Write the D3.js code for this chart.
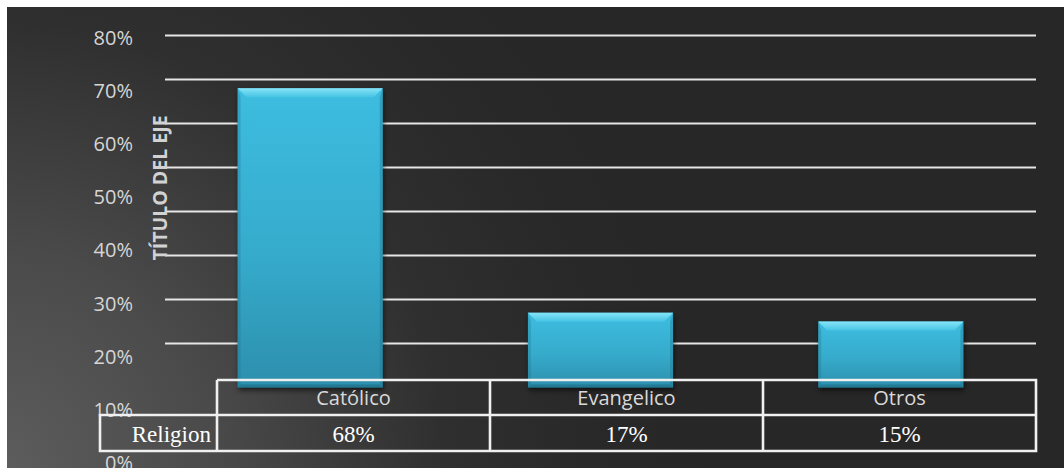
<!DOCTYPE html>
<html>
<head>
<meta charset="utf-8">
<script src="https://cdn.jsdelivr.net/npm/d3@7/dist/d3.min.js"></script>
<style>
  html, body { margin: 0; padding: 0; background: #ffffff; }
  svg { display: block; }
</style>
</head>
<body>
<svg id="chart" width="1064" height="468"></svg>
<script>
// Religion share by group
const categories = ["Católico", "Evangelico", "Otros"];
const values = [0.68, 0.17, 0.15];
const valueLabels = ["68%", "17%", "15%"];
const seriesName = "Religion";
const yTicks = [0, 0.1, 0.2, 0.3, 0.4, 0.5, 0.6, 0.7, 0.8];
const axisTitle = "TÍTULO DEL EJE";

const W = 1064, H = 468;
const svg = d3.select("#chart");
const defs = svg.append("defs");

// Background: dark charcoal brightening toward the lower-left corner
const bg = defs.append("radialGradient")
  .attr("id", "bgGrad")
  .attr("gradientUnits", "userSpaceOnUse")
  .attr("cx", 0).attr("cy", H).attr("r", 720);
[[0, "#5d5d5d"], [0.3, "#4a4a4a"], [0.62, "#2f2f2f"], [0.85, "#282828"], [1, "#272727"]]
  .forEach(([o, c]) => bg.append("stop").attr("offset", o).attr("stop-color", c));

svg.append("rect")
  .attr("x", 7).attr("y", 7)
  .attr("width", W - 7).attr("height", H - 7)
  .attr("fill", "url(#bgGrad)");

// Bar fill gradients
const barGrad = defs.append("linearGradient")
  .attr("id", "barGrad").attr("x1", 0).attr("y1", 0).attr("x2", 0).attr("y2", 1);
barGrad.append("stop").attr("offset", 0).attr("stop-color", "#3dbde0");
barGrad.append("stop").attr("offset", 0.55).attr("stop-color", "#36abcc");
barGrad.append("stop").attr("offset", 1).attr("stop-color", "#2d8fad");

const topGrad = defs.append("linearGradient")
  .attr("id", "topGrad").attr("x1", 0).attr("y1", 0).attr("x2", 0).attr("y2", 1);
topGrad.append("stop").attr("offset", 0).attr("stop-color", "#86e4f8");
topGrad.append("stop").attr("offset", 1).attr("stop-color", "#45c3e3");

const shadow = defs.append("filter").attr("id", "barShadow")
  .attr("x", "-10%").attr("y", "-10%").attr("width", "120%").attr("height", "130%");
shadow.append("feGaussianBlur").attr("stdDeviation", 2.5);

// Scales
const x = d3.scaleBand()
  .domain(categories)
  .range([165, 1036])
  .paddingInner(0.5)
  .paddingOuter(0.25);

const y = d3.scaleLinear().domain([0, 0.8]).range([387.5, 35.5]);
// value-axis labels are laid out on their own, taller spacing
const yLabel = d3.scaleLinear().domain([0, 0.8]).range([463, 38]);

// Gridlines
svg.append("g")
  .selectAll("line")
  .data(yTicks.filter(d => d > 0))
  .join("line")
  .attr("x1", 165).attr("x2", 1036)
  .attr("y1", d => y(d)).attr("y2", d => y(d))
  .attr("stroke", "#e6e6e6")
  .attr("stroke-width", 2);

// Value axis labels
const yAxis = d3.axisLeft(yLabel)
  .tickValues(yTicks)
  .tickFormat(d3.format(".0%"))
  .tickSize(0)
  .tickPadding(0);
const gy = svg.append("g").attr("transform", "translate(133,0)").call(yAxis);
gy.select(".domain").remove();
gy.selectAll("text")
  .attr("fill", "#d6d6d6")
  .attr("font-family", "'Open Sans', sans-serif")
  .attr("font-size", 20);

// Axis title
svg.append("text")
  .attr("transform", "translate(159,188) rotate(-90)")
  .attr("text-anchor", "middle")
  .attr("dominant-baseline", "central")
  .attr("font-family", "'Open Sans', sans-serif")
  .attr("font-weight", "bold")
  .attr("font-size", 19.5)
  .attr("fill", "#d2d2d2")
  .text(axisTitle);

// Bars with bevelled edges
const bev = 9;
const bars = svg.append("g")
  .selectAll("g")
  .data(categories.map((c, i) => ({ c, v: values[i] })))
  .join("g");

bars.append("rect")
  .attr("x", d => x(d.c) + 1)
  .attr("y", d => y(d.v) + 3)
  .attr("width", x.bandwidth())
  .attr("height", d => y(0) - y(d.v))
  .attr("fill", "#000")
  .attr("opacity", 0.55)
  .attr("filter", "url(#barShadow)");

bars.append("rect")
  .attr("x", d => x(d.c))
  .attr("y", d => y(d.v))
  .attr("width", x.bandwidth())
  .attr("height", d => y(0) - y(d.v))
  .attr("fill", "url(#barGrad)");

// top bevel
bars.append("polygon")
  .attr("points", d => {
    const x0 = x(d.c), x1 = x0 + x.bandwidth(), y0 = y(d.v);
    return [[x0, y0], [x1, y0], [x1 - bev, y0 + bev], [x0 + bev, y0 + bev]].join(" ");
  })
  .attr("fill", "url(#topGrad)");

// side bevels
bars.append("polygon")
  .attr("points", d => {
    const x0 = x(d.c), y0 = y(d.v), y1 = y(0);
    return [[x0, y0], [x0 + 3, y0 + bev], [x0 + 3, y1 - 3], [x0, y1]].join(" ");
  })
  .attr("fill", "#1e6f88").attr("opacity", 0.3);
bars.append("polygon")
  .attr("points", d => {
    const x1 = x(d.c) + x.bandwidth(), y0 = y(d.v), y1 = y(0);
    return [[x1, y0], [x1 - 3, y0 + bev], [x1 - 3, y1 - 3], [x1, y1]].join(" ");
  })
  .attr("fill", "#1e6f88").attr("opacity", 0.35);
// bottom bevel
bars.append("polygon")
  .attr("points", d => {
    const x0 = x(d.c), x1 = x0 + x.bandwidth(), y1 = y(0);
    return [[x0, y1], [x1, y1], [x1 - 3, y1 - 3], [x0 + 3, y1 - 3]].join(" ");
  })
  .attr("fill", "#1b6a82").attr("opacity", 0.6);

// Data table
const tbl = { left: 100, head: 217, right: 1036, r0: 380, r1: 415, r2: 451 };
const cols = d3.scaleBand().domain(categories).range([tbl.head, tbl.right]);
const tg = svg.append("g")
  .attr("stroke", "#f0f0f0")
  .attr("stroke-width", 2.6)
  .attr("fill", "none");
tg.append("path").attr("d", `M${tbl.head},${tbl.r0}H${tbl.right}V${tbl.r2}H${tbl.left}V${tbl.r1}H${tbl.right}`);
tg.selectAll("line.col")
  .data(categories)
  .join("line")
  .attr("x1", d => cols(d)).attr("x2", d => cols(d))
  .attr("y1", tbl.r0)
  .attr("y2", tbl.r2);

svg.append("g")
  .selectAll("text")
  .data(categories)
  .join("text")
  .attr("x", d => cols(d) + cols.bandwidth() / 2)
  .attr("y", (tbl.r0 + tbl.r1) / 2)
  .attr("text-anchor", "middle")
  .attr("dominant-baseline", "central")
  .attr("font-family", "'Open Sans', sans-serif")
  .attr("font-size", 20)
  .attr("fill", "#d9d9d9")
  .text(d => d);

svg.append("g")
  .selectAll("text")
  .data(categories)
  .join("text")
  .attr("x", d => cols(d) + cols.bandwidth() / 2)
  .attr("y", (tbl.r1 + tbl.r2) / 2 + 1)
  .attr("text-anchor", "middle")
  .attr("dominant-baseline", "central")
  .attr("font-family", "'Liberation Serif', 'Times New Roman', serif")
  .attr("font-size", 23)
  .attr("fill", "#ffffff")
  .text((d, i) => valueLabels[i]);

svg.append("text")
  .attr("x", tbl.head - 6)
  .attr("y", (tbl.r1 + tbl.r2) / 2 + 1)
  .attr("text-anchor", "end")
  .attr("dominant-baseline", "central")
  .attr("font-family", "'Liberation Serif', 'Times New Roman', serif")
  .attr("font-size", 23)
  .attr("fill", "#ffffff")
  .text(seriesName);
</script>
</body>
</html>
